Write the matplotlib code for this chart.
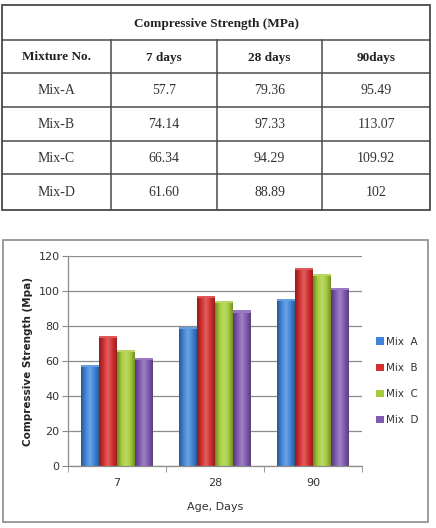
import numpy as np
import matplotlib
matplotlib.use("Agg")
import matplotlib.pyplot as plt
from matplotlib.patches import Rectangle
from matplotlib.colors import LinearSegmentedColormap

# ---------------- data ----------------
table_title = "Compressive Strength (MPa)"
table_header = ["Mixture No.", "7 days", "28 days", "90days"]
mixtures = ["Mix-A", "Mix-B", "Mix-C", "Mix-D"]
table_values = [["57.7", "79.36", "95.49"],
                ["74.14", "97.33", "113.07"],
                ["66.34", "94.29", "109.92"],
                ["61.60", "88.89", "102"]]

ages = ["7", "28", "90"]
series_names = ["Mix  A", "Mix  B", "Mix  C", "Mix  D"]
mix_a = [57.7, 79.36, 95.49]
mix_b = [74.14, 97.33, 113.07]
mix_c = [66.34, 94.29, 109.92]
mix_d = [61.60, 88.89, 102]
colors = ["#3F84D8", "#D42E2E", "#A6CC3A", "#8059B0"]

W, H = 436, 528
fig = plt.figure(figsize=(W / 100, H / 100), dpi=100)
fig.patch.set_facecolor("white")

# ---------------- table (pixel-coordinate overlay axes) ----------------
ov = fig.add_axes([0, 0, 1, 1], zorder=0)
ov.set_xlim(0, W)
ov.set_ylim(H, 0)
ov.axis("off")

tl, tr = 2, 430
row_y = [5, 40, 73, 107, 141, 174, 210]
col_x = [2, 111, 217, 322, 430]
lc = "#4a4a4a"
ov.add_patch(Rectangle((tl, row_y[0]), tr - tl, row_y[-1] - row_y[0],
                       fill=False, ec=lc, lw=1.3))
for y in row_y[1:-1]:
    ov.plot([tl, tr], [y, y], color=lc, lw=1.1)
for x in col_x[1:-1]:
    ov.plot([x, x], [row_y[1], row_y[-1]], color=lc, lw=1.1)

serif = "Liberation Serif"
ov.text((tl + tr) / 2, (row_y[0] + row_y[1]) / 2 + 1, table_title,
        ha="center", va="center", fontsize=9.5, fontweight="bold",
        family=serif, color="#222222")
for j, h in enumerate(table_header):
    ov.text((col_x[j] + col_x[j + 1]) / 2, (row_y[1] + row_y[2]) / 2 + 1, h,
            ha="center", va="center", fontsize=9.5, fontweight="bold",
            family=serif, color="#222222")
for i, m in enumerate(mixtures):
    yc = (row_y[i + 2] + row_y[i + 3]) / 2 + 1
    ov.text((col_x[0] + col_x[1]) / 2, yc, m, ha="center", va="center",
            fontsize=10, family=serif, color="#333333")
    for j, v in enumerate(table_values[i]):
        ov.text((col_x[j + 1] + col_x[j + 2]) / 2, yc, v, ha="center",
                va="center", fontsize=10, family=serif, color="#333333")

# chart outer box
ov.add_patch(Rectangle((3, 240), 425, 282, fill=False, ec="#8a8a8a", lw=1.2))

# ---------------- bar chart ----------------
px_l, px_r, px_t, px_b = 68, 362, 256, 466
ax = fig.add_axes([px_l / W, 1 - px_b / H, (px_r - px_l) / W, (px_b - px_t) / H],
                  zorder=1)
ax.patch.set_alpha(0)

x = np.arange(len(ages))
n = 4
group_w = 0.73
bw = group_w / n
series = [mix_a, mix_b, mix_c, mix_d]

def shade(c, f):
    c = np.array(matplotlib.colors.to_rgb(c))
    if f >= 0:
        return tuple(c + (1 - c) * f)
    return tuple(c * (1 + f))

grad = np.linspace(0, 1, 64).reshape(1, -1)
for k, (vals, col) in enumerate(zip(series, colors)):
    xs = x - group_w / 2 + bw * (k + 0.5)
    bars = ax.bar(xs, vals, width=bw, color=col, label=series_names[k],
                  zorder=2, edgecolor="none")
    cmap = LinearSegmentedColormap.from_list(
        "g%d" % k, [shade(col, -0.35), shade(col, 0.0), shade(col, 0.25),
                    shade(col, 0.0), shade(col, -0.3)])
    for b in bars:
        x0, w, h = b.get_x(), b.get_width(), b.get_height()
        im = ax.imshow(grad, extent=[x0, x0 + w, 0, h], aspect="auto",
                       cmap=cmap, zorder=2.1, interpolation="bicubic")
        im.set_clip_path(b)
        ax.add_patch(Rectangle((x0, h - 1.2), w, 1.2, color=shade(col, 0.2),
                               zorder=2.2, lw=0))

ax.set_xlim(-0.5, 2.5)
ax.set_ylim(0, 120)
ax.set_yticks(np.arange(0, 121, 20))
ax.set_xticks(x)
ax.set_xticklabels(ages)
ax.set_xticks([-0.5, 0.5, 1.5, 2.5], minor=True)
ax.tick_params(axis="x", which="major", length=0, pad=9, labelsize=8,
               colors="#333333")
ax.tick_params(axis="x", which="minor", length=4, color="#888888")
ax.tick_params(axis="y", length=4, color="#888888", labelsize=8,
               labelcolor="#333333", pad=2)
ax.grid(axis="y", color="#8c8c8c", lw=0.9, zorder=0)
ax.set_axisbelow(True)
for s in ["top", "right"]:
    ax.spines[s].set_visible(False)
for s in ["left", "bottom"]:
    ax.spines[s].set_color("#8c8c8c")
    ax.spines[s].set_linewidth(0.9)

ax.set_xlabel("Age, Days", fontsize=8, color="#333333", labelpad=10)
ax.set_ylabel("Compressive Strength (Mpa)", fontsize=7.5, fontweight="bold",
              color="#222222", labelpad=4)

leg = ax.legend(loc="center left", bbox_to_anchor=(1.035, 0.405), frameon=False,
                fontsize=7.5, handlelength=0.7, handleheight=0.7,
                handletextpad=0.25, labelspacing=1.55, borderaxespad=0)
for t in leg.get_texts():
    t.set_color("#333333")

fig.savefig("out.png", dpi=100, facecolor="white")
